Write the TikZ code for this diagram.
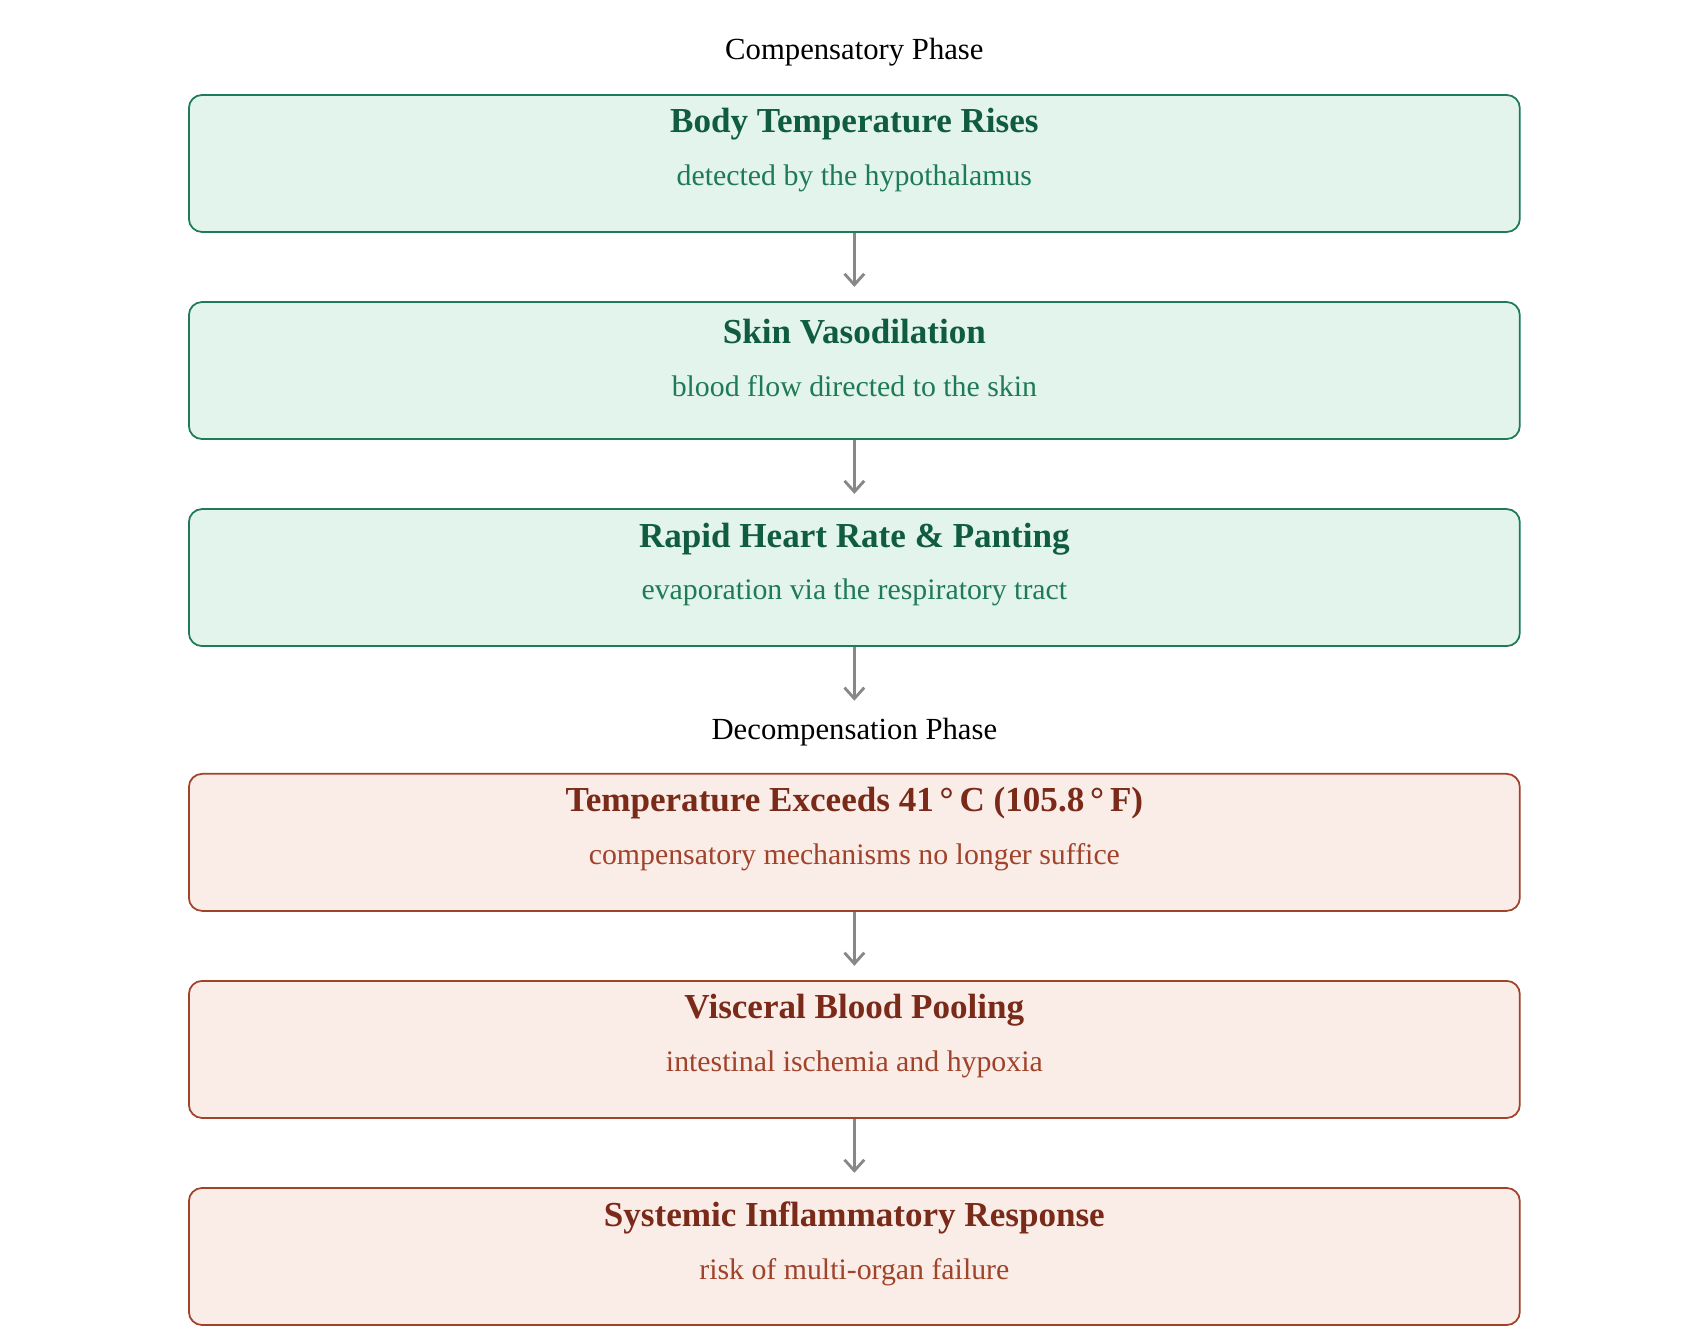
\documentclass[tikz,border=0pt]{standalone}
\usepackage{fontspec}
\setmainfont{Liberation Serif}
\usetikzlibrary{arrows.meta}
\definecolor{gfill}{HTML}{E2F4EC}
\definecolor{gline}{HTML}{1E7A57}
\definecolor{gtitle}{HTML}{0F5C40}
\definecolor{rfill}{HTML}{FAECE7}
\definecolor{rline}{HTML}{A0432A}
\definecolor{rtitle}{HTML}{7A2A18}
\definecolor{arr}{HTML}{888888}
\tikzset{
  gbox/.style={draw=gline, fill=gfill, line width=0.8pt, rounded corners=6pt,
    minimum width=607pt, minimum height=62.5pt, inner sep=0pt},
  rbox/.style={draw=rline, fill=rfill, line width=0.8pt, rounded corners=6pt,
    minimum width=607pt, minimum height=62.5pt, inner sep=0pt},
  flow/.style={draw=arr, line width=1.3pt, -{Straight Barb[length=5pt,width=9pt]}},
  phase/.style={font=\fontsize{14}{16}\selectfont},
  gtitle/.style={font=\fontsize{16}{18}\selectfont\bfseries, text=gtitle},
  gnote/.style={font=\fontsize{13.6}{16}\selectfont, text=gline},
  rtitle/.style={font=\fontsize{16}{18}\selectfont\bfseries, text=rtitle},
  rnote/.style={font=\fontsize{13.6}{16}\selectfont, text=rline}
}
\begin{document}
\begin{tikzpicture}[x=0.497pt, y=-0.497pt]
  \useasboundingbox (0,0) rectangle (1560,1222);

  \node[phase] (comp) at (784,48) {Compensatory Phase};

  \node[gbox] (b1) at (784,150) {};
  \node[gbox] (b2) at (784,340) {};
  \node[gbox] (b3) at (784,530) {};

  \node[phase] (decomp) at (784,672) {Decompensation Phase};

  \node[rbox] (b4) at (784,773) {};
  \node[rbox] (b5) at (784,963) {};
  \node[rbox] (b6) at (784,1153) {};

  % titles and notes
  \node[gtitle] (t1) at (784,114) {Body Temperature Rises};
  \node[gnote] (s1) at (784,164) {detected by the hypothalamus};
  \node[gtitle] (t2) at (784,304) {Skin Vasodilation};
  \node[gnote] (s2) at (784,354) {blood flow directed to the skin};
  \node[gtitle] (t3) at (784,495) {Rapid Heart Rate \& Panting};
  \node[gnote] (s3) at (784,544) {evaporation via the respiratory tract};

  \node[rtitle] (t4) at (784,737) {Temperature Exceeds 41\,°\,C (105.8\,°\,F)};
  \node[rnote] (s4) at (784,787) {compensatory mechanisms no longer suffice};
  \node[rtitle] (t5) at (784,927) {Visceral Blood Pooling};
  \node[rnote] (s5) at (784,977) {intestinal ischemia and hypoxia};
  \node[rtitle] (t6) at (784,1118) {Systemic Inflammatory Response};
  \node[rnote] (s6) at (784,1167) {risk of multi-organ failure};

  \coordinate (d3) at (784,643);

  \draw[flow] (b1.south) -- ([yshift=6.5pt]b2.north);
  \draw[flow] (b2.south) -- ([yshift=6.5pt]b3.north);
  \draw[flow] (b3.south) -- (d3);
  \draw[flow] (b4.south) -- ([yshift=6.5pt]b5.north);
  \draw[flow] (b5.south) -- ([yshift=6.5pt]b6.north);
\end{tikzpicture}
\end{document}
